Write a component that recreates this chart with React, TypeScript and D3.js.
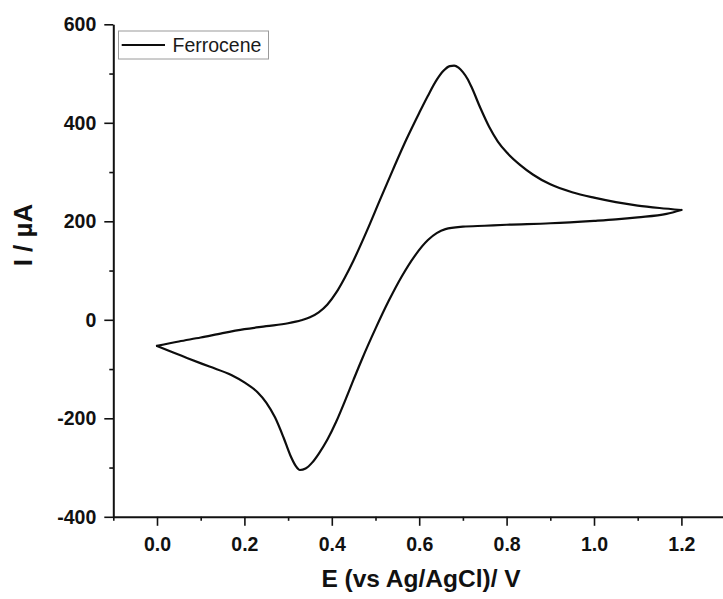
import React, { useEffect, useRef } from 'react'
import * as d3 from 'd3'

// forward (anodic) sweep, 0.0 -> 1.2 V
const fwdE = [0, 0.05, 0.10, 0.15, 0.20, 0.25, 0.30, 0.33, 0.35, 0.37, 0.39, 0.41, 0.43, 0.45, 0.48, 0.51, 0.54, 0.57, 0.60, 0.62, 0.64, 0.655, 0.67, 0.68, 0.69, 0.70, 0.71, 0.72, 0.74, 0.76, 0.78, 0.80, 0.83, 0.86, 0.90, 0.95, 1.0, 1.05, 1.1, 1.15, 1.2]
const fwdI = [-53, -44, -36, -27, -19, -13, -7, -1, 5, 15, 31, 55, 86, 121, 180, 243, 305, 365, 420, 455, 487, 505, 515, 516, 512, 503, 490, 472, 430, 392, 362, 340, 315, 295, 275, 259, 248, 239, 232, 227, 223]

// reverse (cathodic) sweep, listed by ascending potential
const revE = [0, 0.03, 0.07, 0.12, 0.17, 0.20, 0.23, 0.25, 0.27, 0.29, 0.305, 0.317, 0.327, 0.34, 0.355, 0.37, 0.39, 0.41, 0.43, 0.45, 0.47, 0.50, 0.53, 0.56, 0.59, 0.62, 0.64, 0.66, 0.70, 0.75, 0.80, 0.90, 1.0, 1.05, 1.1, 1.166, 1.2]
const revI = [-53, -64, -78, -95, -112, -127, -147, -168, -198, -240, -275, -296, -305, -302, -290, -272, -243, -207, -165, -121, -78, -18, 38, 88, 130, 162, 176, 184, 189, 191, 193, 196, 201, 204, 208, 215, 223]

const xMajor = [0, 0.2, 0.4, 0.6, 0.8, 1.0, 1.2]
const xMinor = [-0.1, 0.1, 0.3, 0.5, 0.7, 0.9, 1.1, 1.3]
const yMajor = [-400, -200, 0, 200, 400, 600]
const yMinor = [-300, -100, 100, 300, 500]

const seriesName = 'Ferrocene'
const xTitle = 'E (vs Ag/AgCl)/ V'
const yTitle = 'I / µA'

const W = 723
const H = 599
const FONT = '"Liberation Sans", Arial, Helvetica, sans-serif'

export default function App() {
    const svgRef = useRef(null)

    useEffect(() => {
        const svg = d3.select(svgRef.current)
        svg.selectAll('*').remove()

        const left = 113.3, right = 725.1, top = 24.3, bottom = 516.8

        const x = d3.scaleLinear().domain([-0.1, 1.3]).range([left, right])
        const y = d3.scaleLinear().domain([-400, 600]).range([bottom, top])

        svg.append('rect').attr('width', W).attr('height', H).attr('fill', '#fff')

        // minor ticks first, then major axis with labels
        svg.append('g')
            .attr('transform', `translate(${ left },0)`)
            .call(d3.axisLeft(y).tickValues(yMinor).tickSize(4).tickFormat(() => ''))
            .call(g => g.select('.domain').remove())
        svg.append('g')
            .attr('transform', `translate(0,${ bottom })`)
            .call(d3.axisBottom(x).tickValues(xMinor).tickSize(4).tickFormat(() => ''))
            .call(g => g.select('.domain').remove())

        const yAxis = svg.append('g')
            .attr('transform', `translate(${ left },0)`)
            .call(d3.axisLeft(y).tickValues(yMajor).tickSize(9).tickSizeOuter(0).tickPadding(8)
                .tickFormat(d => String(d)))
        const xAxis = svg.append('g')
            .attr('transform', `translate(0,${ bottom })`)
            .call(d3.axisBottom(x).tickValues(xMajor).tickSize(9).tickSizeOuter(0).tickPadding(11)
                .tickFormat(d => d.toFixed(1)))

        svg.selectAll('.tick line').attr('stroke', '#111').attr('stroke-width', 1.6)
        for (const ax of [ yAxis, xAxis ]) {
            ax.select('.domain').attr('stroke', '#111').attr('stroke-width', 2)
            ax.selectAll('text')
                .attr('font-family', FONT)
                .attr('font-weight', 'bold')
                .attr('font-size', 19.5)
                .attr('fill', '#111')
        }

        // curve, both branches drawn left to right
        const line = d3.line()
            .x(d => x(d[0]))
            .y(d => y(d[1]))
            .curve(d3.curveMonotoneX)

        const fwd = fwdE.map((e, i) => [ e, fwdI[i] ])
        const rev = revE.map((e, i) => [ e, revI[i] ])

        svg.append('g')
            .attr('fill', 'none')
            .attr('stroke', '#0d0d0d')
            .attr('stroke-width', 2.2)
            .attr('stroke-linejoin', 'round')
            .attr('stroke-linecap', 'round')
            .selectAll('path')
            .data([ fwd, rev ])
            .join('path')
            .attr('d', line)

        // legend
        const lg = svg.append('g')
        lg.append('rect')
            .attr('x', 118.5).attr('y', 31).attr('width', 150).attr('height', 28)
            .attr('fill', '#fff').attr('stroke', '#9a9a9a').attr('stroke-width', 1)
        lg.append('line')
            .attr('x1', 121.7).attr('x2', 165).attr('y1', 45).attr('y2', 45)
            .attr('stroke', '#0d0d0d').attr('stroke-width', 2.2)
        lg.append('text')
            .attr('x', 172.5).attr('y', 51.7)
            .attr('font-family', FONT).attr('font-size', 19.5)
            .attr('fill', '#1a1a1a')
            .text(seriesName)

        // titles
        svg.append('text')
            .attr('x', 421).attr('y', 586.7)
            .attr('text-anchor', 'middle')
            .attr('font-family', FONT).attr('font-weight', 'bold').attr('font-size', 24.5)
            .attr('fill', '#111')
            .text(xTitle)

        svg.append('text')
            .attr('transform', 'translate(32,235) rotate(-90)')
            .attr('text-anchor', 'middle')
            .attr('font-family', FONT).attr('font-weight', 'bold').attr('font-size', 26)
            .attr('fill', '#111')
            .text(yTitle)
    }, [])

    return (
        <svg ref={ svgRef } width={ W } height={ H }
             style={ { position: 'absolute', left: 0, top: 0, display: 'block' } }/>
    )
}
